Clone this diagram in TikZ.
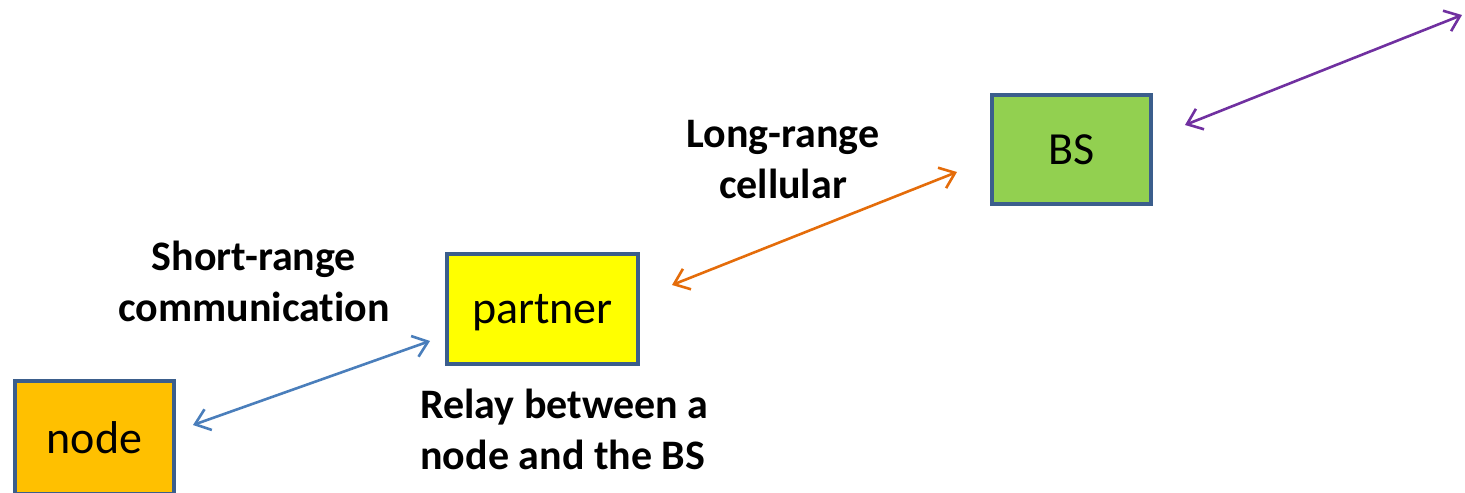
\documentclass[tikz,border=0pt]{standalone}
\usepackage{fontspec}
\setmainfont{Carlito}[Ligatures=NoCommon]
\usepackage{tikz}
\usetikzlibrary{positioning}
\usetikzlibrary{arrows.meta}

\definecolor{boxline}{HTML}{3B5E8C}
\definecolor{nodefill}{HTML}{FFC000}
\definecolor{partnerfill}{HTML}{FFFF00}
\definecolor{bsfill}{HTML}{92D050}
\definecolor{shortlink}{HTML}{4A7EBB}
\definecolor{longlink}{HTML}{E46C0A}
\definecolor{uplink}{HTML}{7030A0}

\begin{document}
\begin{tikzpicture}[
            x = 0.5pt, y = -0.5pt, % one unit per pixel, y going down
            > = {Straight Barb[length=7pt,width=11pt]}, % open arrow head
            link/.style = {<->, line width = 1.3pt},
            box/.style = {
                draw = boxline,
                line width = 2pt,
                inner sep = 0pt,
                minimum width = 79.5pt,
                minimum height = 54.5pt,
                font = \fontsize{23}{27}\selectfont
            },
            tag/.style = {
                font = \bfseries\fontsize{21}{25.5}\selectfont,
                align = center,
                inner sep = 0pt
            }
        ]

        \useasboundingbox (0,0) rectangle (1465,492);

	% the three stations
        \node[box, fill = nodefill, minimum height = 56.5pt] (node) at (94.5,437.5) {node};
        \node[box, fill = partnerfill, minimum width = 95.5pt, minimum height = 55pt, text depth = 0pt] (partner) at (542.5,309) {partner};
        \node[box, fill = bsfill] (BS) at (1071.5,149.5) {BS};

	% link labels
        \node[tag] (short) at (254,281) {Short-range\\communication};
        \node[tag] (long) at (783,160) {Long-range\\cellular};
        \node[tag, align = left, anchor = west] (relay) at (420,429.5) {Relay between a\\node and the BS};

	% links
        \coordinate (up) at (1462,15);

        \draw[link, shortlink] ([shift={(17,-12.5)}]node.east) -- ([shift={(-15,32)}]partner.west);
        \draw[link, longlink] ([shift={(32,-24)}]partner.east) -- ([shift={(-33,22.5)}]BS.west);
        \draw[link, uplink] ([shift={(32,-24.5)}]BS.east) -- (up);

  \end{tikzpicture}
\end{document}
